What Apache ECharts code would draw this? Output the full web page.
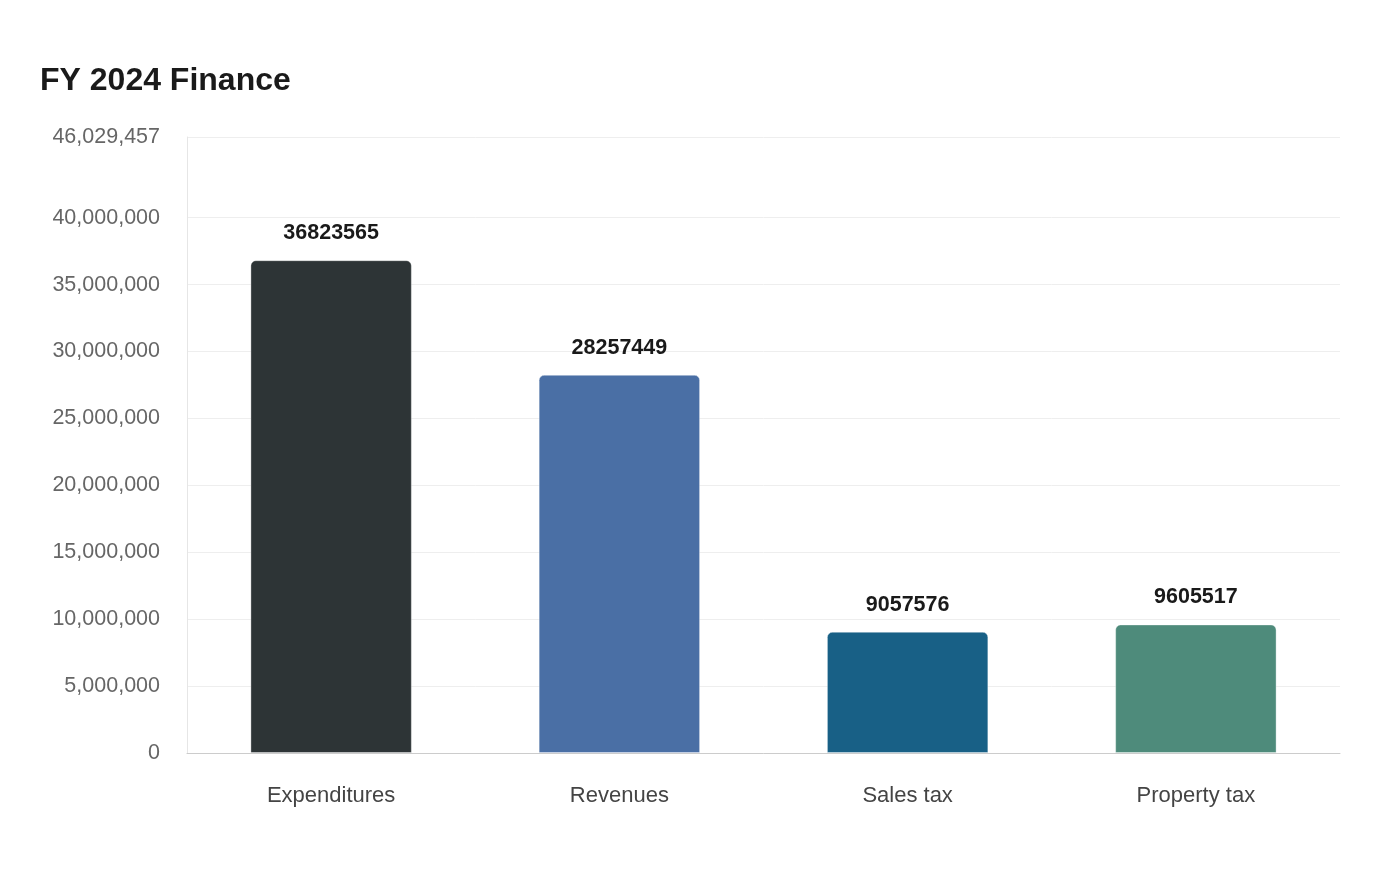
<!DOCTYPE html>
<html lang="en">
<head>
    <meta charset="UTF-8">
    <title>FY 2024 Finance</title>
    <script type="text/javascript" src="https://cdn.jsdelivr.net/npm/echarts@6/dist/echarts.min.js"></script>
    <style>
        html, body { margin: 0; padding: 0; background: #fff; }
    </style>
</head>
<body>
    <div id="container" style="width:1400px;height:880px"></div>

    <script type="text/javascript">
        var categories = ['Expenditures', 'Revenues', 'Sales tax', 'Property tax'];
        var values = [36823565, 28257449, 9057576, 9605517];
        var barColors = ['#2d3436', '#4a6fa5', '#186086', '#4e8b7b'];
        var yMax = 46029457;
        var yTicks = [0, 5000000, 10000000, 15000000, 20000000, 25000000, 30000000, 35000000, 40000000, 46029457];

        var dom = document.getElementById("container");
        var myChart = echarts.init(dom);

        var option = {
            animation: false,
            title: {
                text: 'FY 2024 Finance',
                left: 35,
                top: 60,
                textStyle: {
                    color: '#1a1a1a',
                    fontSize: 32,
                    fontWeight: 'bold',
                    fontFamily: 'Liberation Sans'
                }
            },
            grid: {
                left: 187,
                right: 60,
                top: 137,
                bottom: 127
            },
            xAxis: {
                type: 'category',
                data: categories,
                axisTick: { show: false },
                axisLine: { lineStyle: { color: '#cccccc' } },
                axisLabel: {
                    color: '#444444',
                    fontSize: 22,
                    margin: 32,
                    fontFamily: 'Liberation Sans'
                }
            },
            yAxis: {
                type: 'value',
                min: 0,
                max: yMax,
                axisLine: { show: true, lineStyle: { color: '#e6e6e6' } },
                axisTick: { show: false, customValues: yTicks },
                splitLine: { lineStyle: { color: '#eeeeee' } },
                axisLabel: {
                    customValues: yTicks,
                    color: '#666666',
                    fontSize: 21.5,
                    margin: 27,
                    padding: [4, 0, 0, 0],
                    fontFamily: 'Liberation Sans',
                    formatter: function (v) {
                        return Math.round(v).toLocaleString('en-US');
                    }
                }
            },
            series: [
                {
                    type: 'bar',
                    barWidth: '56%',
                    data: values.map(function (v, i) {
                        return {
                            value: v,
                            itemStyle: { color: barColors[i] }
                        };
                    }),
                    itemStyle: {
                        borderRadius: [5, 5, 0, 0],
                        borderColor: 'rgba(255,255,255,0.35)',
                        borderWidth: 1
                    },
                    label: {
                        show: true,
                        position: 'top',
                        distance: 16,
                        color: '#1a1a1a',
                        fontSize: 21.5,
                        fontWeight: 'bold',
                        fontFamily: 'Liberation Sans'
                    }
                }
            ]
        };

        myChart.setOption(option);
    </script>
</body>
</html>
